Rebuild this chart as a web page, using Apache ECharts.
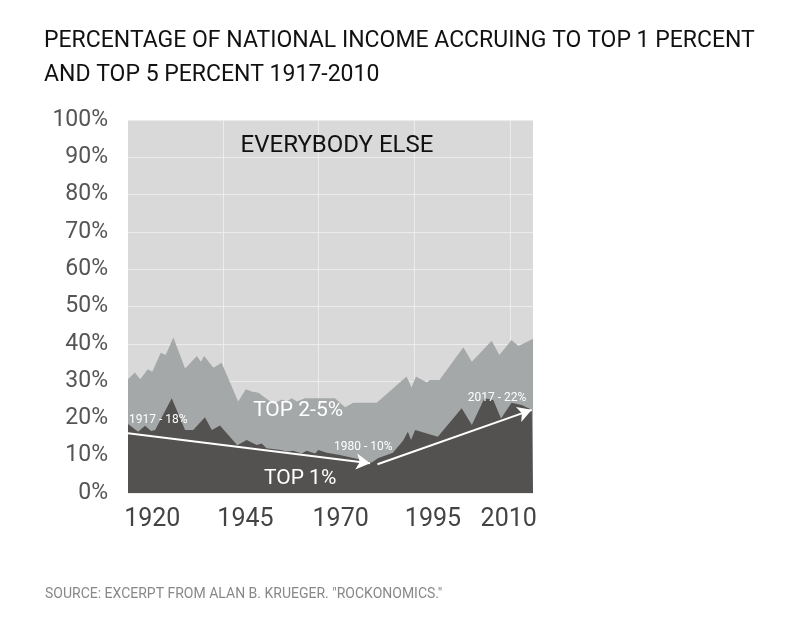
<!DOCTYPE html>
<html>
<head>
<meta charset="utf-8">
<title>Top 1% and top 5% income share</title>
<script src="https://cdn.jsdelivr.net/npm/echarts@6/dist/echarts.min.js"></script>
<style>
  html, body { margin: 0; padding: 0; background: #fff; }
  #main { width: 800px; height: 617px; }
</style>
</head>
<body>
<div id="main"></div>
<script>
// 数据：[年份, 百分比]，从图上读出来的拐点
var top5Share = [
  [1917, 30.5], [1918.7, 32.3], [1920, 30.5], [1921.9, 33.2], [1923, 32.5],
  [1925.1, 37.6], [1926.3, 37.0], [1928.2, 41.7], [1931.1, 33.4], [1934, 36.7],
  [1935, 35.2], [1935.8, 36.7], [1938.1, 33.6], [1940.1, 34.9], [1944.2, 24.5],
  [1946.1, 27.8], [1947.5, 27.2], [1949.2, 26.9], [1952.9, 23.9], [1955, 25.1],
  [1956.2, 24.5], [1957.4, 25.4], [1958.7, 24.5], [1960.7, 25.4], [1968.1, 25.4],
  [1970.6, 23.0], [1972.6, 24.2], [1978.4, 24.2], [1985.8, 31.2], [1987, 28.3],
  [1988.1, 31.2], [1990.8, 29.6], [1991.6, 30.3], [1993.9, 30.3], [1999.8, 39.1],
  [2001.9, 35.2], [2006.8, 40.8], [2008.7, 37.0], [2011.7, 41.0], [2013.4, 39.4],
  [2016.4, 41.0], [2017, 41.3]
]
var top1Share = [
  [1917, 18.5], [1919.5, 16.4], [1921.2, 18.0], [1922.7, 16.6], [1923.7, 16.9],
  [1927.8, 25.4], [1931.1, 16.9], [1933.1, 16.9], [1936, 20.3], [1937.7, 16.9],
  [1939.7, 18.1], [1944, 12.8], [1946.3, 14.2], [1948.8, 12.9], [1950, 13.3],
  [1951.2, 12.0], [1954.7, 11.5], [1956.2, 11.1], [1957.8, 11.3], [1959.9, 10.6],
  [1961.1, 11.3], [1963.2, 10.6], [1964, 11.5], [1966.1, 10.8], [1969.3, 10.2],
  [1974.3, 9.0], [1977.2, 8.2], [1978.7, 9.3], [1982.4, 10.8], [1984.9, 14.0],
  [1986.1, 16.4], [1986.9, 14.2], [1987.9, 16.9], [1993.5, 15.1], [1999.4, 22.7],
  [2001.9, 18.2], [2005, 25.4], [2007.2, 24.9], [2009.1, 20.0], [2011.7, 24.2],
  [2014.2, 23.6], [2016.7, 22.3], [2017, 22.3]
]
// 趋势箭头
var trendFrom = [[1917, 16.0], [1978.6, 7.7]]
var trendTo = [[1976.8, 8.0], [2016.7, 22.3]]
// 标注文字
var notes = [
  { text: '1917 - 18%', at: [1917, 19.6] },
  { text: '1980 - 10%', at: [1975.1, 12.3] },
  { text: '2017 - 22%', at: [2008.1, 25.5] }
]
var areaNames = [
  { text: 'EVERYBODY ELSE', at: [1968.6, 93] },
  { text: 'TOP 2-5%', at: [1959, 22] },
  { text: 'TOP 1%', at: [1959.5, 3.8] }
]
// 刻度：原图的年份标签并不严格对齐，按原图位置放
var xTickLabels = ['1920', '1945', '1970', '1995', '2010']
var xTickAt = [1923, 1946, 1969.5, 1992.3, 2011]
var xGridYears = [1940.5, 1964, 1987.6, 2011.3]

var FONT = 'Roboto, sans-serif'

var myChart = echarts.init(document.getElementById('main'))

var arrowLines = []
for (var i = 0; i < trendFrom.length; i++) {
  arrowLines.push([{ coord: trendFrom[i] }, { coord: trendTo[i] }])
}

var option = {
  animation: false,
  title: [{
    text: 'PERCENTAGE OF NATIONAL INCOME ACCRUING TO TOP 1 PERCENT\nAND TOP 5 PERCENT 1917-2010',
    left: 39,
    top: 19,
    textStyle: {
      fontFamily: FONT,
      fontSize: 23,
      fontWeight: 'normal',
      color: '#111',
      lineHeight: 34
    }
  }, {
    text: 'SOURCE: EXCERPT FROM ALAN B. KRUEGER. "ROCKONOMICS."',
    left: 40,
    top: 582,
    textStyle: {
      fontFamily: FONT,
      fontSize: 14,
      fontWeight: 'normal',
      color: '#888'
    }
  }],
  grid: {
    left: 128,
    right: 267,
    top: 120,
    bottom: 124,
    show: true,
    borderWidth: 0,
    backgroundColor: '#d9d9d9'
  },
  xAxis: {
    type: 'value',
    min: 1917,
    max: 2017,
    axisLine: { show: false },
    // 竖向网格线跟着 tick 走
    axisTick: { show: false, customValues: xGridYears },
    splitLine: { show: true, lineStyle: { color: '#ececec', width: 1 } },
    axisLabel: {
      customValues: xTickAt,
      formatter: function (v) {
        var k = xTickAt.indexOf(v)
        return k >= 0 ? xTickLabels[k] : ''
      },
      hideOverlap: false,
      showMinLabel: true,
      showMaxLabel: true,
      fontFamily: FONT,
      fontSize: 25,
      color: '#444',
      margin: 14
    }
  },
  yAxis: {
    type: 'value',
    min: 0,
    max: 100,
    interval: 10,
    axisLine: { show: false },
    axisTick: { show: false },
    splitLine: { lineStyle: { color: '#ececec', width: 1 } },
    axisLabel: {
      formatter: '{value}%',
      fontFamily: FONT,
      fontSize: 23,
      color: '#555',
      margin: 20
    }
  },
  series: [{
    name: 'Top 5%',
    type: 'line',
    data: top5Share,
    symbol: 'none',
    lineStyle: { width: 0 },
    areaStyle: { color: '#a5a8a8', opacity: 1 },
    z: 2,
    markPoint: {
      symbol: 'circle',
      symbolSize: 0,
      silent: true,
      data: areaNames.map(function (d, idx) {
        return {
          coord: d.at,
          label: {
            show: true,
            position: 'inside',
            formatter: d.text,
            fontFamily: FONT,
            fontSize: idx === 0 ? 24 : 21,
            color: idx === 0 ? '#111' : '#fff'
          }
        }
      })
    }
  }, {
    name: 'Top 1%',
    type: 'line',
    data: top1Share,
    symbol: 'none',
    lineStyle: { width: 0 },
    areaStyle: { color: '#535250', opacity: 1 },
    z: 3,
    markLine: {
      silent: true,
      symbol: ['none', 'arrow'],
      symbolSize: [12, 14],
      label: { show: false },
      lineStyle: { color: '#fff', width: 2, type: 'solid' },
      data: arrowLines
    },
    markPoint: {
      symbol: 'circle',
      symbolSize: 0,
      silent: true,
      data: notes.map(function (d, idx) {
        return {
          coord: d.at,
          label: {
            show: true,
            position: idx === 0 ? 'right' : 'inside',
            distance: 1,
            formatter: d.text,
            fontFamily: FONT,
            fontSize: 12,
            color: '#fff'
          }
        }
      })
    }
  }]
}

myChart.setOption(option)
</script>
</body>
</html>
